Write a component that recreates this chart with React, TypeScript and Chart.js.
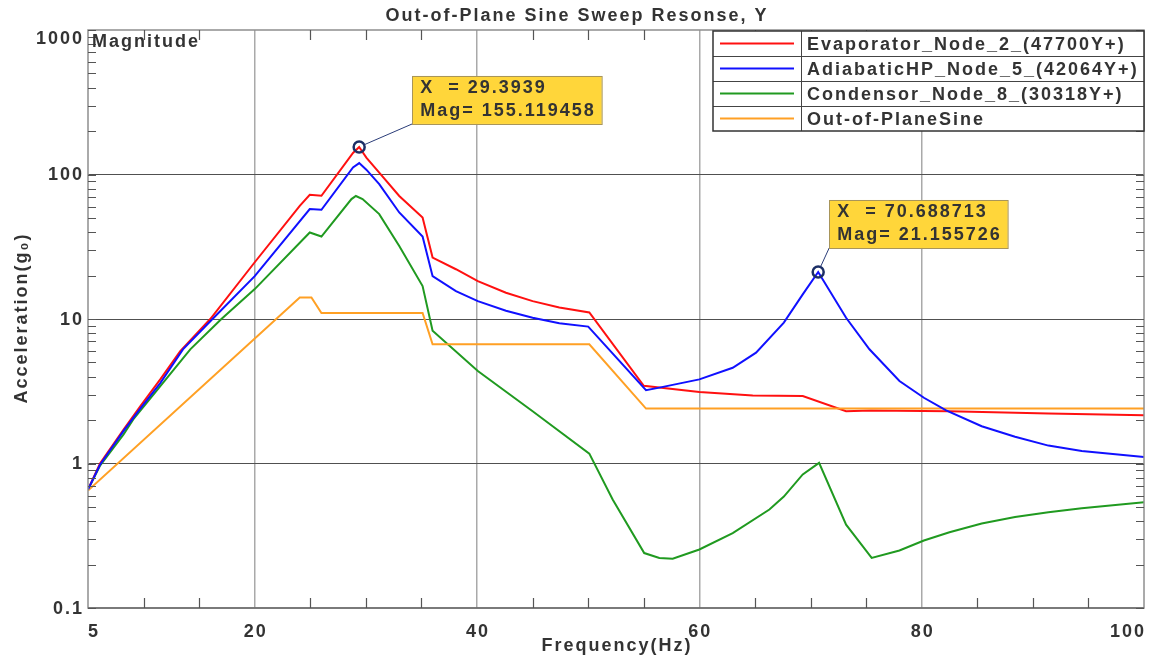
import { useEffect, useRef } from "react";
import { Chart, registerables } from "chart.js";

Chart.register(...registerables);

// ---------- text ----------
const TITLE = "Out-of-Plane Sine Sweep Resonse, Y";
const X_TITLE = "Frequency(Hz)";
const Y_TITLE = "Acceleration(g\u2080)";
const CORNER_LABEL = "Magnitude";

// ---------- axes ----------
const X_MIN = 5;
const X_MAX = 100;
const Y_MIN = 0.1;
const Y_MAX = 1000;
const X_TICKS = [5, 20, 40, 60, 80, 100];
const X_TICK_TEXT = ["5", "20", "40", "60", "80", "100"];
const X_GRID = [20, 40, 60, 80];
const X_MINOR = [10, 15, 25, 30, 35, 45, 50, 55, 65, 70, 75, 85, 90, 95];
const Y_TICKS = [0.1, 1, 10, 100, 1000];
const Y_TICK_TEXT = ["0.1", "1", "10", "100", "1000"];
const Y_GRID = [1, 10, 100];
const Y_MINOR = [
  0.2, 0.3, 0.4, 0.5, 0.6, 0.7, 0.8, 0.9,
  2, 3, 4, 5, 6, 7, 8, 9,
  20, 30, 40, 50, 60, 70, 80, 90,
  200, 300, 400, 500, 600, 700, 800, 900,
];

// ---------- series ----------
const SERIES_NAMES = [
  "Evaporator_Node_2_(47700Y+)",
  "AdiabaticHP_Node_5_(42064Y+)",
  "Condensor_Node_8_(30318Y+)",
  "Out-of-PlaneSine",
];

const EVAP_X = [5, 6.08, 8.2, 9.7, 11.5, 13.3, 16, 20, 24.05, 24.95, 26, 28.84, 29.3939, 30.04, 31.2, 33, 35.1, 36, 38.1, 40.07, 42.6, 45, 47.4, 50.1, 55, 60, 64.8, 69.3, 73.2, 75.4, 82.5, 91.4, 100];
const EVAP_Y = [0.66, 1.0, 1.72, 2.49, 3.82, 6.0, 10, 24.7, 60.7, 72.3, 71.2, 140.8, 155.119458, 131, 103, 71, 50.4, 26.6, 22.1, 18.3, 15.2, 13.3, 12.0, 11.1, 3.45, 3.12, 2.96, 2.93, 2.3, 2.33, 2.3, 2.22, 2.16];

const ADIA_X = [5, 6.08, 8.2, 9.7, 11.5, 13.54, 16.2, 20, 24.95, 26, 28.84, 29.4, 30.04, 31.2, 33, 35.1, 36, 38.1, 40.07, 42.6, 45, 47.4, 50, 55.2, 56.4, 60, 63, 65.1, 67.6, 69.3, 70.688713, 73.2, 75.3, 78, 80.2, 82.2, 85.4, 88.4, 91.4, 94.4, 100];
const ADIA_Y = [0.66, 0.98, 1.68, 2.4, 3.6, 6.16, 10, 19.8, 57.6, 57, 112, 120, 108, 85.8, 54.6, 37.2, 19.8, 15.6, 13.3, 11.4, 10.2, 9.34, 8.86, 3.22, 3.35, 3.82, 4.6, 5.85, 9.44, 14.8, 21.155726, 10.2, 6.17, 3.72, 2.85, 2.33, 1.81, 1.53, 1.33, 1.22, 1.11];

const COND_X = [5, 6.1, 8.2, 9.07, 14.2, 17, 20, 24.95, 26, 28.7, 29.1, 29.7, 31.2, 33, 35.1, 36, 40.07, 45, 50.1, 52.2, 55.04, 56.4, 57.6, 60, 63, 66.3, 67.6, 69.3, 70.77, 73.2, 75.5, 78, 80.2, 82.5, 85.4, 88.4, 91.4, 94.4, 100];
const COND_Y = [0.66, 0.97, 1.59, 2.02, 6.16, 10, 16.1, 39.7, 37.2, 67.6, 71, 67.6, 53.2, 32, 16.9, 8.3, 4.36, 2.3, 1.17, 0.563, 0.24, 0.222, 0.219, 0.254, 0.33, 0.48, 0.59, 0.84, 1.01, 0.377, 0.222, 0.25, 0.293, 0.334, 0.384, 0.427, 0.46, 0.49, 0.54];

const SINE_X = [5, 24.05, 25.1, 26, 35.1, 36, 50.1, 55.2, 100];
const SINE_Y = [0.65, 14.1, 14.1, 11.0, 11.0, 6.68, 6.68, 2.4, 2.4];

const PEAK_X = [29.3939, 70.688713];
const PEAK_Y = [155.119458, 21.155726];

// ---------- styles ----------
const COLORS = ["#ff1010", "#1010ff", "#209a20", "#ffa024"];
const DRAW_ORDER = [2, 0, 3, 1];
const FONT = 'bold 18px "Liberation Sans", Arial, sans-serif';
const TEXT_COLOR = "#333333";
const ANNOT_OFFSETS = [
  { dx: 53, dy: -71 },
  { dx: 11, dy: -72 },
];

const toPoints = (xs: number[], ys: number[]) => xs.map((x, i) => ({ x, y: ys[i] }));

function spacedText(ctx: CanvasRenderingContext2D, text: string, x: number, y: number, align: CanvasTextAlign, spacing = 2) {
  (ctx as any).letterSpacing = spacing + "px";
  ctx.textAlign = align;
  let dx = 0;
  if (align === "right") dx = spacing;
  else if (align === "center") dx = spacing / 2;
  ctx.fillText(text, x + dx, y);
  (ctx as any).letterSpacing = "0px";
}

const decorPlugin = {
  id: "decor",
  afterDraw(chart: any) {
    const { ctx, chartArea: a, scales } = chart;
    const xs = scales.x;
    const ys = scales.y;
    ctx.save();

    // frame
    ctx.strokeStyle = "#8f8f8f";
    ctx.lineWidth = 1.5;
    ctx.strokeRect(a.left, a.top, a.right - a.left, a.bottom - a.top);
    ctx.strokeStyle = "#6a6a6a";
    ctx.beginPath();
    ctx.moveTo(a.left, a.bottom);
    ctx.lineTo(a.right, a.bottom);
    ctx.stroke();

    // minor tick marks
    ctx.strokeStyle = "#555";
    ctx.lineWidth = 1.2;
    ctx.beginPath();
    for (const v of X_MINOR) {
      const px = Math.round(xs.getPixelForValue(v)) + 0.5;
      ctx.moveTo(px, a.bottom);
      ctx.lineTo(px, a.bottom - 10);
      ctx.moveTo(px, a.top);
      ctx.lineTo(px, a.top + 10);
    }
    for (const v of Y_MINOR) {
      const py = Math.round(ys.getPixelForValue(v)) + 0.5;
      ctx.moveTo(a.left, py);
      ctx.lineTo(a.left + 8, py);
      ctx.moveTo(a.right, py);
      ctx.lineTo(a.right - 8, py);
    }
    for (const v of Y_TICKS) {
      const py = Math.round(ys.getPixelForValue(v)) + 0.5;
      ctx.moveTo(a.left, py);
      ctx.lineTo(a.left + 8, py);
      ctx.moveTo(a.right, py);
      ctx.lineTo(a.right - 8, py);
    }
    ctx.stroke();

    ctx.font = FONT;
    ctx.fillStyle = TEXT_COLOR;

    // y tick labels
    ctx.textBaseline = "middle";
    Y_TICKS.forEach((v, i) => {
      const py = Math.max(ys.getPixelForValue(v), a.top + 8);
      spacedText(ctx, Y_TICK_TEXT[i], a.left - 6, py + 1, "right");
    });

    // x tick labels
    ctx.textBaseline = "alphabetic";
    X_TICKS.forEach((v, i) => {
      const px = xs.getPixelForValue(v);
      const align: CanvasTextAlign = i === 0 ? "left" : i === X_TICKS.length - 1 ? "right" : "center";
      spacedText(ctx, X_TICK_TEXT[i], px, a.bottom + 29, align);
    });

    // axis titles
    spacedText(ctx, X_TITLE, (a.left + a.right) / 2, 651, "center");
    ctx.save();
    ctx.translate(27, (a.top + a.bottom) / 2);
    ctx.rotate(-Math.PI / 2);
    spacedText(ctx, Y_TITLE, 0, 0, "center");
    ctx.restore();

    // chart title
    spacedText(ctx, TITLE, chart.width / 2, 21, "center");

    // corner label
    spacedText(ctx, CORNER_LABEL, a.left + 4, a.top + 17, "left");

    // legend
    const lw = 431;
    const rowH = 25;
    const lx = a.right - lw;
    const ly = a.top + 1;
    const lh = rowH * SERIES_NAMES.length;
    const colX = lx + 88;
    ctx.fillStyle = "#ffffff";
    ctx.fillRect(lx, ly, lw, lh);
    ctx.strokeStyle = "#444";
    ctx.lineWidth = 1;
    ctx.beginPath();
    for (let i = 1; i < SERIES_NAMES.length; i++) {
      ctx.moveTo(lx, Math.round(ly + i * rowH) + 0.5);
      ctx.lineTo(lx + lw, Math.round(ly + i * rowH) + 0.5);
    }
    ctx.moveTo(Math.round(colX) + 0.5, ly);
    ctx.lineTo(Math.round(colX) + 0.5, ly + lh);
    ctx.stroke();
    ctx.strokeStyle = "#333";
    ctx.lineWidth = 1.5;
    ctx.strokeRect(lx, ly, lw, lh);
    SERIES_NAMES.forEach((name, i) => {
      const cy = ly + i * rowH + rowH / 2;
      ctx.strokeStyle = COLORS[i];
      ctx.lineWidth = 2;
      ctx.beginPath();
      ctx.moveTo(lx + 7, cy);
      ctx.lineTo(colX - 7, cy);
      ctx.stroke();
      ctx.fillStyle = TEXT_COLOR;
      ctx.textBaseline = "alphabetic";
      spacedText(ctx, name, colX + 6, cy + 6.5, "left");
    });

    // annotations
    PEAK_X.forEach((px0, i) => {
      const px = xs.getPixelForValue(px0);
      const py = ys.getPixelForValue(PEAK_Y[i]);
      const lines = [`X  = ${PEAK_X[i]}`, `Mag= ${PEAK_Y[i]}`];
      ctx.font = FONT;
      (ctx as any).letterSpacing = "2px";
      const tw = Math.max(...lines.map((t) => ctx.measureText(t).width));
      (ctx as any).letterSpacing = "0px";
      const bx = px + ANNOT_OFFSETS[i].dx;
      const by = py + ANNOT_OFFSETS[i].dy;
      const bw = tw + 14;
      const bh = 48;
      // connector
      const cx = bx;
      const cy = by + bh;
      const ang = Math.atan2(cy - py, cx - px);
      ctx.strokeStyle = "#2a3c78";
      ctx.lineWidth = 1;
      ctx.beginPath();
      ctx.moveTo(px + Math.cos(ang) * 6, py + Math.sin(ang) * 6);
      ctx.lineTo(cx, cy);
      ctx.stroke();
      // box
      ctx.fillStyle = "#ffd63a";
      ctx.fillRect(bx, by, bw, bh);
      ctx.strokeStyle = "#a8955a";
      ctx.lineWidth = 1;
      ctx.strokeRect(Math.round(bx) + 0.5, Math.round(by) + 0.5, bw, bh);
      ctx.fillStyle = TEXT_COLOR;
      ctx.textBaseline = "alphabetic";
      spacedText(ctx, lines[0], bx + 8, by + 17, "left");
      spacedText(ctx, lines[1], bx + 8, by + 40, "left");
    });

    ctx.restore();
  },
};

export default function App() {
  const ref = useRef<HTMLCanvasElement | null>(null);

  useEffect(() => {
    if (!ref.current) return;
    const seriesData = [
      toPoints(EVAP_X, EVAP_Y),
      toPoints(ADIA_X, ADIA_Y),
      toPoints(COND_X, COND_Y),
      toPoints(SINE_X, SINE_Y),
    ];
    const datasets: any[] = seriesData.map((d, i) => ({
      label: SERIES_NAMES[i],
      data: d,
      borderColor: COLORS[i],
      backgroundColor: COLORS[i],
      borderWidth: 2,
      pointRadius: 0,
      tension: 0,
      fill: false,
      order: DRAW_ORDER[i],
    }));
    datasets.push({
      label: "peaks",
      data: toPoints(PEAK_X, PEAK_Y),
      showLine: false,
      pointRadius: 5.5,
      pointBorderWidth: 2.5,
      pointBorderColor: "#1c2f66",
      pointBackgroundColor: "rgba(0,0,0,0)",
      order: -1,
    });

    const chart = new Chart(ref.current, {
      type: "line",
      data: { datasets },
      options: {
        animation: false,
        responsive: true,
        maintainAspectRatio: false,
        layout: { padding: { top: 30, right: 6, left: 0, bottom: 0 } },
        plugins: {
          legend: { display: false },
          title: { display: false },
          tooltip: { enabled: false },
        },
        events: [],
        scales: {
          x: {
            type: "linear",
            min: X_MIN,
            max: X_MAX,
            afterBuildTicks: (s: any) => {
              s.ticks = [...X_TICKS, ...X_MINOR].map((v) => ({ value: v }));
            },
            afterFit: (s: any) => {
              s.height = 51;
            },
            ticks: { display: false },
            border: { display: false },
            grid: {
              drawTicks: false,
              lineWidth: 1.5,
              color: (c: any) => (c.tick && X_GRID.includes(c.tick.value) ? "#a9a9a9" : "rgba(0,0,0,0)"),
            },
          },
          y: {
            type: "logarithmic",
            min: Y_MIN,
            max: Y_MAX,
            afterBuildTicks: (s: any) => {
              s.ticks = Y_TICKS.map((v) => ({ value: v }));
            },
            afterFit: (s: any) => {
              s.width = 88;
            },
            ticks: { display: false },
            border: { display: false },
            grid: {
              drawTicks: false,
              lineWidth: 1,
              color: (c: any) => (c.tick && Y_GRID.includes(c.tick.value) ? "#505050" : "rgba(0,0,0,0)"),
            },
          },
        },
      } as any,
      plugins: [decorPlugin],
    });
    return () => chart.destroy();
  }, []);

  return (
    <div style={{ position: "absolute", left: 0, top: 0, width: 1152, height: 659, background: "#fff" }}>
      <canvas ref={ref} />
    </div>
  );
}
